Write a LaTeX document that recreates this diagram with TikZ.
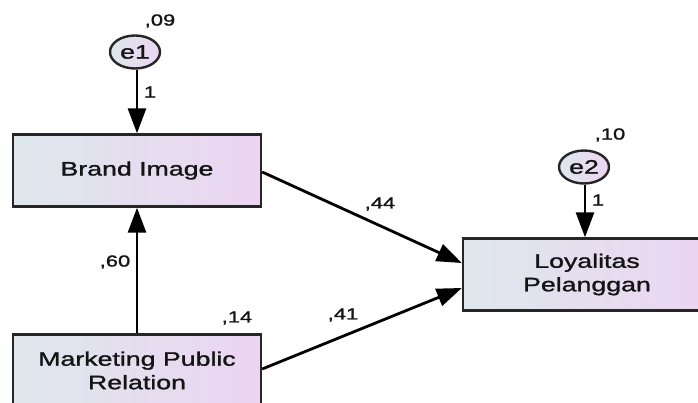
\documentclass[tikz,border=0pt]{standalone}
\usepackage{fontspec}
\setmainfont{Liberation Sans}[FakeStretch=1.37,FakeBold=1.3]
\usetikzlibrary{arrows.meta,shapes.geometric,calc}
\definecolor{gl}{RGB}{222,232,236}
\definecolor{gr}{RGB}{236,212,242}
\definecolor{txt}{RGB}{20,20,20}
\tikzset{
  boxnode/.style={draw=black!85,line width=2.4pt,left color=gl,right color=gr,
    minimum width=248pt,minimum height=72pt,inner sep=0pt,align=center,
    text=txt,font=\fontsize{19.5}{23.5}\selectfont},
  errnode/.style={draw=black!85,line width=2.4pt,ellipse,left color=gl,right color=gr,
    minimum width=50pt,minimum height=33pt,inner sep=0pt,text=txt,
    font=\fontsize{19.5}{23.5}\selectfont},
  lbl/.style={text=txt,inner sep=0pt,font=\fontsize{16}{19}\selectfont},
  arr/.style={line width=2.8pt,-{Triangle[length=25pt,width=18pt]}}
}
\begin{document}
\begin{tikzpicture}[x=1pt,y=-1pt]
\path[use as bounding box] (0,0) rectangle (698,403);
\clip (0,0) rectangle (698,403);
\node[boxnode] (bi) at (137,170.5) {Brand Image};
\node[boxnode] (mpr) at (137,370.5) {Marketing Public\\Relation};
\node[boxnode] (loy) at (587,274.5) {Loyalitas\\Pelanggan};
\node[errnode] (e1) at (135,52) {e1};
\node[errnode] (e2) at (584,167) {e2};
\node[lbl] (v09) at (160,21) {,09};
\node[lbl] (v10) at (610,135) {,10};
\node[lbl] (v14) at (237,318) {,14};
\draw[arr] (e1.south -| bi.north) -- (bi.north);
\draw[arr] (e2.south -| loy.north) ++(-2,0) -- ($(loy.north)+(-2,0)$);
\draw[arr] (mpr.north) -- (bi.south);
\draw[arr] ($(bi.east)+(0,1.5)$) -- ($(loy.west)+(0,-11.5)$);
\draw[arr] ($(mpr.east)+(0,-1.5)$) -- ($(loy.west)+(0,13.5)$);
\node[lbl] (l1a) at (150,92) {1};
\node[lbl] (l1b) at (598,200) {1};
\node[lbl] (l60) at (115,262) {,60};
\node[lbl] (l44) at (380,204) {,44};
\node[lbl] (l41) at (343,315) {,41};
\end{tikzpicture}
\end{document}
